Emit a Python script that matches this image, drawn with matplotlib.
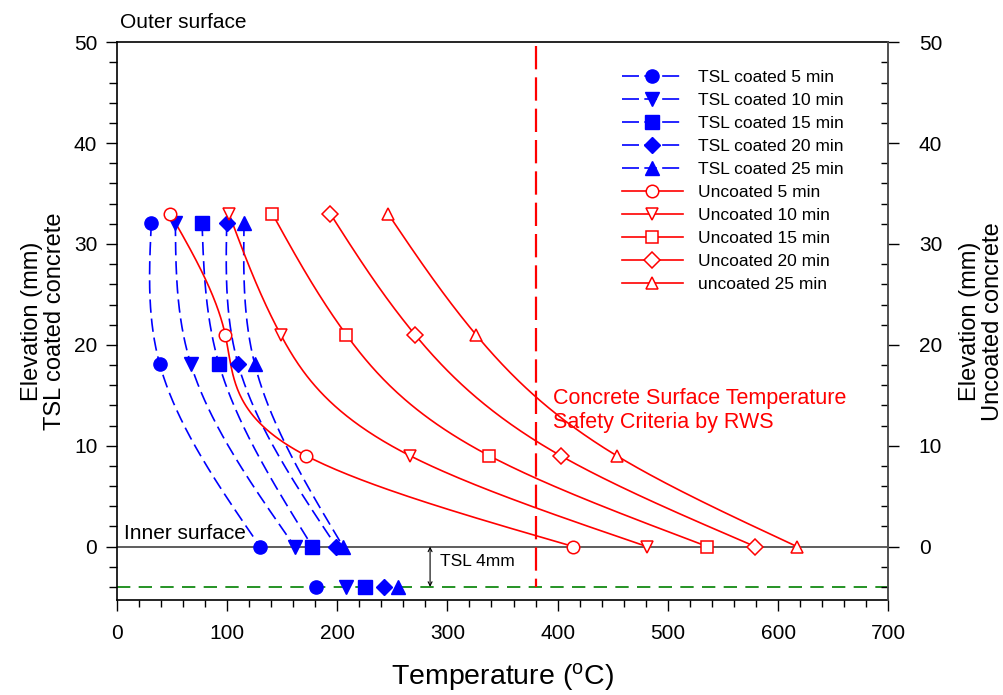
import numpy as np
import matplotlib
matplotlib.use("Agg")
import matplotlib.pyplot as plt
from matplotlib.ticker import MultipleLocator
from matplotlib.lines import Line2D

plt.rcParams['font.family'] = ['Liberation Sans', 'DejaVu Sans']

# ---------------- data ----------------
coated_labels = ["TSL coated 5 min", "TSL coated 10 min", "TSL coated 15 min",
                 "TSL coated 20 min", "TSL coated 25 min"]
coated_elev = [32.1, 18.1, 0.0]
coated_temp = [
    [31.4, 39.0, 130.0],
    [53.2, 67.2, 161.5],
    [77.4, 92.8, 177.5],
    [99.8, 110.1, 199.3],
    [115.5, 125.2, 205.4],
]
tsl_elev = -4.0
tsl_temp = [180.6, 208.3, 225.0, 242.3, 255.3]

uncoated_labels = ["Uncoated 5 min", "Uncoated 10 min", "Uncoated 15 min",
                   "Uncoated 20 min", "uncoated 25 min"]
uncoated_elev = [33.0, 21.0, 9.0, 0.0]
uncoated_temp = [
    [48.6, 98.5, 172.0, 414.3],
    [101.9, 148.8, 266.2, 481.0],
    [141.2, 208.3, 338.1, 535.9],
    [193.8, 270.7, 402.9, 579.2],
    [246.2, 326.0, 453.7, 617.1],
]
rws_limit = 380.0
rws_span = [49.6, -4.0]
markers = ['o', 'v', 's', 'D', '^']


def natural_spline(xk, yk, n=200):
    """Natural cubic spline y(x) through knots (x increasing)."""
    xk = np.asarray(xk, float)
    yk = np.asarray(yk, float)
    m = len(xk)
    h = np.diff(xk)
    A = np.zeros((m, m))
    b = np.zeros(m)
    A[0, 0] = 1
    A[-1, -1] = 1
    for i in range(1, m - 1):
        A[i, i - 1] = h[i - 1]
        A[i, i] = 2 * (h[i - 1] + h[i])
        A[i, i + 1] = h[i]
        b[i] = 6 * ((yk[i + 1] - yk[i]) / h[i] - (yk[i] - yk[i - 1]) / h[i - 1])
    M = np.linalg.solve(A, b)
    xs = np.linspace(xk[0], xk[-1], n)
    idx = np.clip(np.searchsorted(xk, xs) - 1, 0, m - 2)
    x0 = xk[idx]; x1 = xk[idx + 1]; hh = x1 - x0
    t0 = x1 - xs; t1 = xs - x0
    ys = (M[idx] * t0 ** 3 / (6 * hh) + M[idx + 1] * t1 ** 3 / (6 * hh)
          + (yk[idx] / hh - M[idx] * hh / 6) * t0
          + (yk[idx + 1] / hh - M[idx + 1] * hh / 6) * t1)
    return xs, ys


W, H = 1004, 695
fig = plt.figure(figsize=(W / 100, H / 100), dpi=100)
ax = fig.add_axes([116.7 / W, 1 - 600 / H, (888.3 - 116.7) / W, (600 - 42.3) / H])

BLUE = '#0000ff'
RED = '#ff0000'

handles = []
# coated (blue, dashed)
for lab, temps, mk in zip(coated_labels, coated_temp, markers):
    e = coated_elev[::-1]
    t = temps[::-1]
    ys, xs = natural_spline(e, t)
    ax.plot(xs[::-1], ys[::-1], color=BLUE, lw=1.2, dashes=(8, 3.5), zorder=3)
    ms = 7.7 if mk == 'D' else 9.5
    ax.plot(temps, coated_elev, linestyle='none', marker=mk, ms=ms,
            mfc=BLUE, mec=BLUE, zorder=5)
    handles.append(Line2D([], [], color=BLUE, lw=1.2, dashes=(10.2, 3.2, 7.5, 3.2),
                          marker=mk, ms=ms, mfc=BLUE, mec=BLUE, label=lab))
# TSL interface points
for t, mk in zip(tsl_temp, markers):
    ms = 7.7 if mk == 'D' else 9.5
    ax.plot([t], [tsl_elev], linestyle='none', marker=mk, ms=ms,
            mfc=BLUE, mec=BLUE, zorder=6)

# uncoated (red, solid)
for lab, temps, mk in zip(uncoated_labels, uncoated_temp, markers):
    e = uncoated_elev[::-1]
    t = temps[::-1]
    ys, xs = natural_spline(e, t)
    ax.plot(xs, ys, color=RED, lw=1.2, zorder=4)
    ms = 7.7 if mk == 'D' else 9.0
    ax.plot(temps, uncoated_elev, linestyle='none', marker=mk, ms=ms,
            mfc='white', mec=RED, mew=1.1, zorder=7)
    handles.append(Line2D([], [], color=RED, lw=1.2, marker=mk, ms=ms,
                          mfc='white', mec=RED, mew=1.1, label=lab))

# reference lines
ax.axhline(0, color='#505050', lw=1.3, zorder=2)
ax.axhline(tsl_elev, color='#008000', lw=1.2, dashes=(8, 5), zorder=2)
ax.plot([rws_limit, rws_limit], rws_span, color=RED, lw=1.6, dashes=(10.5, 3.6),
        zorder=2)

# annotations
ax.annotate('', xy=(284.3, 0), xytext=(284.3, tsl_elev),
            arrowprops=dict(arrowstyle='<->', lw=0.8, color='black',
                            mutation_scale=7, shrinkA=0, shrinkB=0))
ax.text(293, -1.5, 'TSL 4mm', fontsize=12.5, va='center', ha='left')
ax.text(7, 0.35, 'Inner surface', fontsize=15, va='bottom', ha='left')
ax.text(0.004, 1.018, 'Outer surface', fontsize=15, va='bottom', ha='left',
        transform=ax.transAxes)
ax.text(396, 13.5, 'Concrete Surface Temperature\nSafety Criteria by RWS',
        color=RED, fontsize=15.5, va='center', ha='left', linespacing=1.2)

# axes
ax.set_xlim(0, 700)
ax.set_ylim(-5.3, 50)
ax.xaxis.set_major_locator(MultipleLocator(100))
ax.xaxis.set_minor_locator(MultipleLocator(20))
ax.yaxis.set_major_locator(MultipleLocator(10))
ax.yaxis.set_minor_locator(MultipleLocator(2))
ax.set_yticks([0, 10, 20, 30, 40, 50])
ax.tick_params(axis='both', which='major', direction='out', length=8, width=1.0,
               labelsize=15, pad=6)
ax.tick_params(axis='both', which='minor', direction='out', length=5, width=1.0)
ax.tick_params(axis='x', which='major', pad=9)
ax.tick_params(axis='y', which='minor', length=6)
for s in ['left', 'bottom', 'top']:
    ax.spines[s].set_linewidth(1.2)
ax.spines['right'].set_color('#505050')
ax.spines['right'].set_linewidth(1.2)

ax.set_xlabel('Temperature ($\\mathregular{^{o}}$C)', fontsize=20.5, labelpad=13)
ax.set_ylabel('Elevation (mm)\nTSL coated concrete', fontsize=17, labelpad=6,
              linespacing=1.05)

ax2 = ax.twinx()
ax2.set_ylim(ax.get_ylim())
ax2.set_yticks([0, 10, 20, 30, 40, 50])
ax2.yaxis.set_minor_locator(MultipleLocator(2))
ax2.tick_params(axis='y', which='major', direction='out', length=8, width=1.0,
                labelsize=15, pad=14)
ax2.tick_params(axis='y', which='minor', direction='in', length=5, width=1.0)
for s in ['left', 'bottom', 'top']:
    ax2.spines[s].set_visible(False)
ax2.spines['right'].set_color('#505050')
ax2.spines['right'].set_linewidth(1.2)
ax2.set_ylabel('Elevation (mm)\nUncoated concrete', fontsize=17, labelpad=12,
               linespacing=1.05)

leg = ax.legend(handles=handles, loc='upper left',
                bbox_to_anchor=(622 / W, 1 - 70 / H), bbox_transform=fig.transFigure,
                frameon=False, fontsize=12.5, handlelength=3.5, handletextpad=0.9,
                labelspacing=0.45, borderpad=0, borderaxespad=0)
leg.set_zorder(10)

fig.savefig('out.png', dpi=100)
